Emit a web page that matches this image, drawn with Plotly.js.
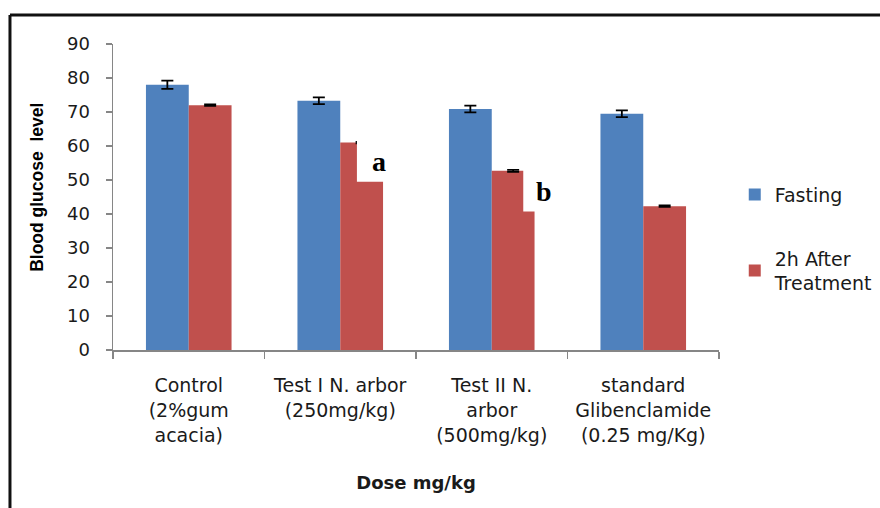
<!DOCTYPE html>
<html>
<head>
<meta charset="utf-8">
<script src="https://cdn.plot.ly/plotly-3.0.1.min.js"></script>
<style>html,body{margin:0;padding:0;background:#fff;}#chart{width:880px;height:508px;}</style>
</head>
<body>
<div id="chart"></div>
<script>
// ---- data ----
const categories = [
  "Control<br>(2%gum<br>acacia)",
  "Test I N. arbor<br>(250mg/kg)",
  "Test II N.<br>arbor<br>(500mg/kg)",
  "standard<br>Glibenclamide<br>(0.25 mg/Kg)"
];
const seriesNames = ["Fasting", "2h After<br>Treatment"];
const fasting = [78.0, 73.3, 70.9, 69.5];
const fastingErr = [1.2, 1.0, 1.0, 1.0];
const after2h = [72.0, 61.0, 52.7, 42.3];
const after2hErr = [0.2, 0.2, 0.3, 0.2];
const yTicks = [0, 10, 20, 30, 40, 50, 60, 70, 80, 90];
const markLabels = ["a", "b"];

const tickFont = {family: "DejaVu Sans, Verdana, sans-serif", size: 19, color: "#1a1a1a"};

const traces = [
  {
    type: "bar", name: seriesNames[0], x: categories, y: fasting,
    legendgroup: "g1",
    marker: {color: "#4F81BD"},
    error_y: {type: "data", array: fastingErr, visible: true, color: "#000", thickness: 1.8, width: 6}
  },
  {
    type: "bar", name: seriesNames[1], x: categories, y: after2h,
    legendgroup: "g2",
    marker: {color: "#C0504D"},
    error_y: {type: "data", array: after2hErr, visible: true, color: "#000", thickness: 1.8, width: 6}
  }
];

const layout = {
  width: 880, height: 508,
  margin: {l: 113, r: 161, t: 44, b: 158, autoexpand: false},
  paper_bgcolor: "#fff", plot_bgcolor: "#fff",
  barmode: "group", bargap: 0.435, bargroupgap: 0,
  showlegend: true,
  legend: {
    x: 1.026, xanchor: "left", y: 0.57, yanchor: "top",
    traceorder: "grouped", tracegroupgap: 36,
    font: {family: "DejaVu Sans, Verdana, sans-serif", size: 19, color: "#1a1a1a"},
    bgcolor: "rgba(0,0,0,0)"
  },
  xaxis: {
    type: "category",
    showline: true, linecolor: "#868686", linewidth: 1.5,
    ticks: "outside", tickson: "boundaries", ticklen: 7, tickcolor: "#868686", tickwidth: 1.5,
    showgrid: false, zeroline: false,
    tickfont: tickFont, ticklabelstandoff: 18,
    title: {text: "<b>Dose mg/kg</b>", font: {family: "DejaVu Sans, Verdana, sans-serif", size: 18, color: "#1a1a1a"}, standoff: 31},
    automargin: false
  },
  yaxis: {
    range: [0, 90], tickvals: yTicks, ticktext: yTicks.map(String),
    showline: true, linecolor: "#868686", linewidth: 1.5,
    ticks: "outside", ticklen: 6, tickcolor: "#868686", tickwidth: 1.5,
    showgrid: false, zeroline: false,
    tickfont: {family: "DejaVu Sans, Verdana, sans-serif", size: 18, color: "#1a1a1a"},
    ticklabelstandoff: 12,
    title: {text: "<b>\u00a0\u00a0\u00a0\u00a0Blood glucose\u00a0 level</b>", font: {family: "Liberation Sans, Arial, sans-serif", size: 17.5, color: "#000"}, standoff: 19},
    automargin: false
  },
  shapes: [
    // white label boxes over part of the red bars
    {type: "rect", xref: "x", yref: "y", x0: 1.11, x1: 1.40, y0: 49.5, y1: 64, fillcolor: "#fff", line: {width: 0}, layer: "above"},
    {type: "rect", xref: "x", yref: "y", x0: 2.208, x1: 2.45, y0: 40.7, y1: 56, fillcolor: "#fff", line: {width: 0}, layer: "above"},
    // outer frame lines (top, left)
    {type: "line", xref: "paper", yref: "paper", x0: -0.17, x1: 1.3, y0: 1.0948, y1: 1.0948, line: {color: "#111", width: 3}},
    {type: "line", xref: "paper", yref: "paper", x0: -0.17, x1: -0.17, y0: 1.0948, y1: -0.6, line: {color: "#111", width: 3}}
  ],
  annotations: [
    {xref: "x", yref: "y", x: 1.258, y: 55.3, text: "<b>" + markLabels[0] + "</b>", showarrow: false,
     font: {family: "Liberation Serif, Times New Roman, serif", size: 28, color: "#000"}},
    {xref: "x", yref: "y", x: 2.342, y: 46.5, text: "<b>" + markLabels[1] + "</b>", showarrow: false,
     font: {family: "Liberation Serif, Times New Roman, serif", size: 28, color: "#000"}}
  ]
};

Plotly.newPlot("chart", traces, layout, {displayModeBar: false, staticPlot: true});
</script>
</body>
</html>
